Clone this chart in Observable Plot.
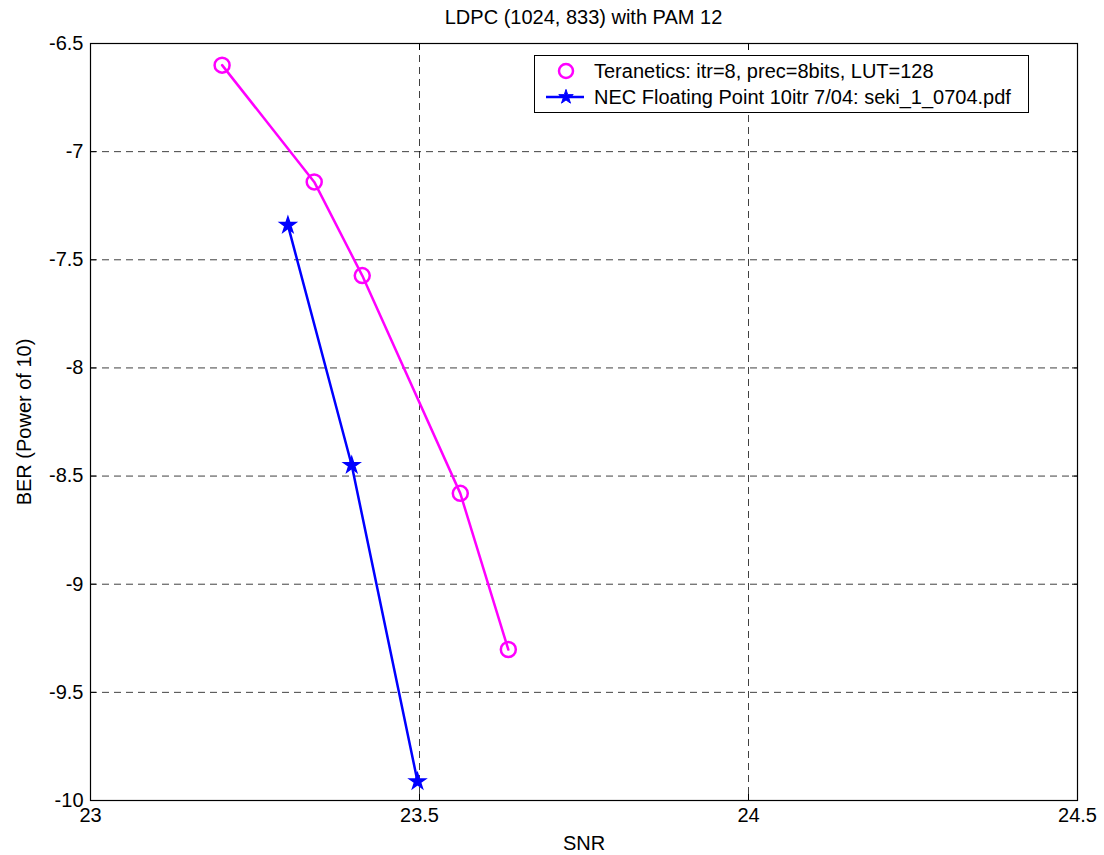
<!DOCTYPE html>
<html>
<head>
<meta charset="utf-8">
<script src="https://cdn.jsdelivr.net/npm/d3@7"></script>
<script src="https://cdn.jsdelivr.net/npm/@observablehq/plot@0.6"></script>
<style>
  body { margin: 0; background: #fff; font-family: "Liberation Sans", Arial, sans-serif; }
  #wrap { position: relative; width: 1104px; height: 855px; }
  #title { position: absolute; left: 90px; width: 987px; top: 5px; text-align: center; font-size: 20px; line-height: 24px; color: #000; }
  #legend { position: absolute; left: 534px; top: 55px; width: 493px; height: 56px; border: 1px solid #000; background: #fff; font-size: 20px; }
  .row { position: absolute; left: 0; height: 26px; display: flex; align-items: center; white-space: nowrap; }
  .row svg { width: 50px; height: 26px; margin-left: 8px; }
  .row span { margin-left: 1px; }
</style>
</head>
<body>
<div id="wrap">
  <div id="chart"></div>
  <div id="title"></div>
  <div id="legend">
    <div class="row" style="top:2px"><svg viewBox="0 0 50 26"><circle cx="23" cy="13" r="7" fill="none" stroke="#ff00ff" stroke-width="2.5"/></svg><span id="leg0"></span></div>
    <div class="row" style="top:28px"><svg viewBox="0 0 50 26"><line x1="3" y1="13" x2="41" y2="13" stroke="#0000ff" stroke-width="2.5"/><path id="star" fill="#0000ff" stroke="#0000ff" stroke-width="1" d=""/></svg><span id="leg1"></span></div>
  </div>
</div>
<script>
// Data
const teraSNR = [23.2, 23.34, 23.413, 23.562, 23.635];
const teraBER = [-6.6, -7.14, -7.573, -8.58, -9.302];
const necSNR = [23.3, 23.397, 23.497];
const necBER = [-7.34, -8.45, -9.912];
const xTicks = [23, 23.5, 24, 24.5];
const yTicks = [-6.5, -7, -7.5, -8, -8.5, -9, -9.5, -10];
const seriesNames = ["Teranetics: itr=8, prec=8bits, LUT=128", "NEC Floating Point 10itr 7/04: seki_1_0704.pdf"];
const titleText = "LDPC (1024, 833) with PAM 12";
const xLabel = "SNR";
const yLabel = "BER (Power of 10)";

document.getElementById("title").textContent = titleText;
document.getElementById("leg0").textContent = seriesNames[0];
document.getElementById("leg1").textContent = seriesNames[1];

const tera = teraSNR.map((x, i) => ({x, y: teraBER[i]}));
const nec = necSNR.map((x, i) => ({x, y: necBER[i]}));

const gridStyle = {stroke: "#000", strokeOpacity: 0.75, strokeWidth: 1, strokeDasharray: "7,5"};

const plot = Plot.plot({
  width: 1104,
  height: 855,
  marginLeft: 90,
  marginRight: 27,
  marginTop: 43,
  marginBottom: 55,
  style: {fontFamily: "'Liberation Sans', Arial, sans-serif", fontSize: "20px", color: "#000", background: "#fff"},
  x: {domain: [23, 24.5]},
  y: {domain: [-10, -6.5]},
  marks: [
    Plot.gridX(xTicks.filter(d => d > 23 && d < 24.5), {...gridStyle}),
    Plot.gridY(yTicks.filter(d => d > -10 && d < -6.5), {...gridStyle}),
    Plot.axisX(xTicks, {anchor: "bottom", tickSize: -6, tickPadding: 13, tickFormat: d => String(d), label: xLabel, labelArrow: "none", labelAnchor: "center", labelOffset: 49, fontSize: 20}),
    Plot.axisX(xTicks, {anchor: "top", tickSize: -6, tickFormat: () => "", label: null}),
    Plot.axisY(yTicks, {anchor: "left", tickSize: -6, tickPadding: 13, tickFormat: d => String(d), label: yLabel, labelArrow: "none", labelAnchor: "center", labelOffset: 74, fontSize: 20}),
    Plot.axisY(yTicks, {anchor: "right", tickSize: -6, tickFormat: () => "", label: null}),
    Plot.frame({stroke: "#000", strokeWidth: 1.2}),
    Plot.line(tera, {x: "x", y: "y", stroke: "#ff00ff", strokeWidth: 2.5}),
    Plot.dot(tera, {x: "x", y: "y", r: 7.5, stroke: "#ff00ff", strokeWidth: 2.5, fill: "none"}),
    Plot.line(nec, {x: "x", y: "y", stroke: "#0000ff", strokeWidth: 2.5}),
    Plot.dot(nec, {x: "x", y: "y", r: 5, symbol: "star", fill: "#0000ff", stroke: "#0000ff", strokeWidth: 1.5})
  ]
});
document.getElementById("chart").appendChild(plot);

// legend star symbol
document.getElementById("star").setAttribute("d", d3.symbol(d3.symbolStar, 65)());
document.getElementById("star").setAttribute("transform", "translate(23,13)");
</script>
</body>
</html>
